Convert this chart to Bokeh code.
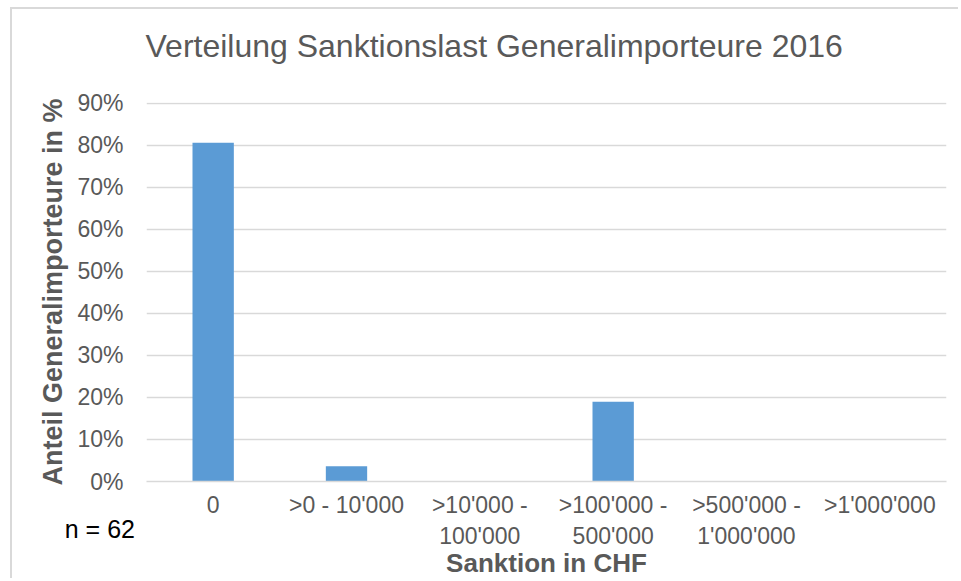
from bokeh.plotting import figure
from bokeh.models import Range1d, FactorRange, Title, FixedTicker, Label
from bokeh.embed import file_html
from bokeh.resources import INLINE

categories = ["0", ">0 - 10'000", ">10'000 -\n100'000", ">100'000 -\n500'000", ">500'000 -\n1'000'000", ">1'000'000"]
shares = [80.6, 3.6, 0.0, 19.0, 0.0, 0.0]
y_ticks = [0, 10, 20, 30, 40, 50, 60, 70, 80, 90]
title_text = "Verteilung Sanktionslast Generalimporteure 2016"
x_label = "Sanktion in CHF"
y_label = "Anteil Generalimporteure in %"
note_text = "n = 62"

FONT = "Liberation Sans"
GREY = "#595959"

p = figure(width=948, height=571, x_range=FactorRange(*categories), y_range=Range1d(0, 90.2),
           output_backend="svg", toolbar_location=None,
           min_border_left=134, min_border_right=14, min_border_top=93, min_border_bottom=98)

p.vbar(x=categories, top=shares, width=0.31, color="#5b9bd5", line_color=None)

p.title.visible = False

# note label lives in the top panel (so it is not clipped to the frame),
# but is positioned in data coordinates below the axis
note = Label(x=-0.35, y=-11.2, text=note_text, text_font=FONT, text_font_size="25px",
             text_color="black", text_align="center", text_baseline="middle")
p.add_layout(note, "above")

spacer = Title(text=" ", text_font=FONT, text_font_size="8px", standoff=0)
p.add_layout(spacer, "above")
main_title = Title(text=title_text, align="left", offset=-1, standoff=0,
                   text_font=FONT, text_font_size="32px", text_font_style="normal",
                   text_color=GREY)
p.add_layout(main_title, "above")

p.outline_line_color = None
p.background_fill_color = "white"
p.border_fill_color = "white"

p.xgrid.grid_line_color = None
p.ygrid.grid_line_color = "#d9d9d9"
p.ygrid.grid_line_width = 1.5

p.yaxis.ticker = FixedTicker(ticks=y_ticks)
p.yaxis.major_label_overrides = {t: f"{t}%" for t in y_ticks}
p.yaxis.axis_line_color = None
p.yaxis.major_tick_line_color = None
p.yaxis.minor_tick_line_color = None
p.yaxis.major_label_text_font = FONT
p.yaxis.major_label_text_font_size = "23px"
p.yaxis.major_label_text_color = GREY
p.yaxis.major_label_standoff = 17
p.yaxis.axis_label = y_label
p.yaxis.axis_label_text_font = FONT
p.yaxis.axis_label_text_font_size = "27px"
p.yaxis.axis_label_text_font_style = "bold"
p.yaxis.axis_label_text_color = GREY
p.yaxis.axis_label_standoff = 6

p.xaxis.axis_line_color = "#d9d9d9"
p.xaxis.axis_line_width = 1.5
p.xaxis.major_tick_line_color = None
p.xaxis.minor_tick_line_color = None
p.xaxis.major_label_text_font = FONT
p.xaxis.major_label_text_font_size = "23px"
p.xaxis.major_label_text_color = GREY
p.xaxis.major_label_standoff = 4
p.xaxis.axis_label = x_label
p.xaxis.axis_label_text_font = FONT
p.xaxis.axis_label_text_font_size = "26px"
p.xaxis.axis_label_text_font_style = "bold"
p.xaxis.axis_label_text_color = GREY
p.xaxis.axis_label_standoff = -4

p.styles = {"border-left": "2px solid #d9d9d9", "border-top": "2px solid #d9d9d9",
            "margin-left": "10px", "margin-top": "7px"}

open("out.html", "w").write(file_html(p, INLINE))
